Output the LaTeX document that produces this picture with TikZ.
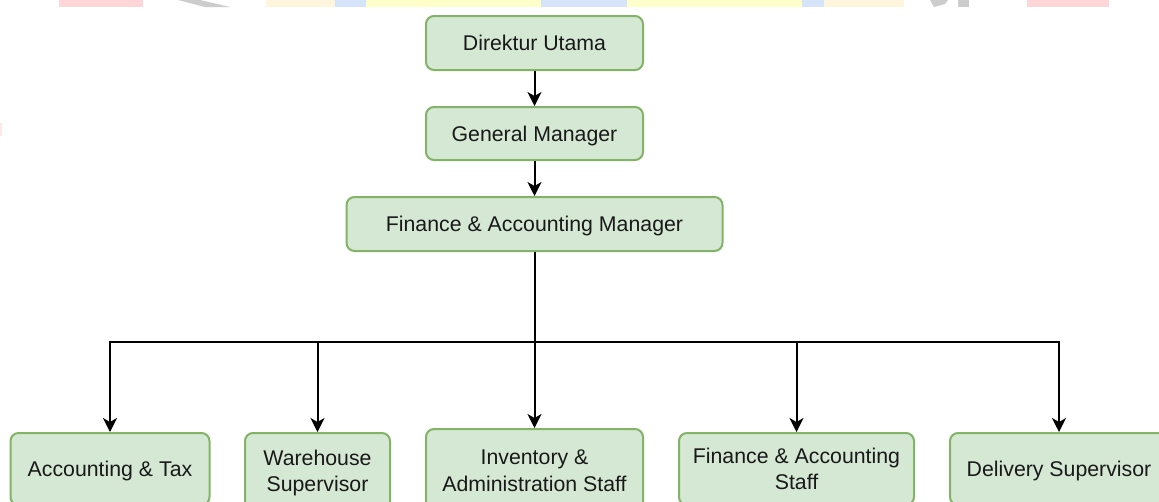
\documentclass[tikz,border=0pt]{standalone}
\usepackage{fontspec}
\setmainfont{Liberation Sans}
\usetikzlibrary{arrows.meta}
\definecolor{boxfill}{HTML}{D5E8D4}
\definecolor{boxline}{HTML}{82B366}
\definecolor{wmpink}{HTML}{FFD6D8}
\definecolor{wmgray}{HTML}{CCCCCC}
\definecolor{wmcream}{HTML}{FFF5DC}
\definecolor{wmyellow}{HTML}{FFFFCC}
\definecolor{wmblue}{HTML}{D6E4FB}
\begin{document}
\begin{tikzpicture}[x=1pt,y=-1pt,
  orgbox/.style={draw=boxline, fill=boxfill, line width=2pt, rounded corners=8pt,
    inner sep=0pt, align=center, text=black!90,
    font=\fontsize{21.3}{26.5}\selectfont},
  oneline/.style={orgbox, text height=15.5pt, text depth=0pt},
  link/.style={line width=2pt, -{Stealth[length=14pt,width=14pt,inset=4pt]}}]
\useasboundingbox (0,0) rectangle (1159,501);
\clip (0,0) rectangle (1159,501);
\fill[white] (0,0) rectangle (1159,501);

% faint banner strip along the top edge
\fill[wmpink]   (59,0) rectangle (143,7);
\fill[wmgray]   (178,0) -- (200,0) -- (230,7) -- (205,7) -- cycle;
\fill[wmcream]  (266,0) rectangle (335,7);
\fill[wmblue]   (335,0) rectangle (366,7);
\fill[wmyellow] (366,0) rectangle (541,7);
\fill[wmblue]   (541,0) rectangle (627,7);
\fill[wmyellow] (627,0) rectangle (802,7);
\fill[wmblue]   (802,0) rectangle (824,7);
\fill[wmcream]  (824,0) rectangle (904,7);
\fill[wmgray]   (930,0) -- (948,0) -- (945,4) -- (934,7) -- cycle;
\fill[wmgray]   (958,0) rectangle (969,7);
\fill[wmpink]   (1027,0) rectangle (1109,7);
\fill[wmpink, opacity=0.6] (0,123) rectangle (2,136);

% management chain
\node[oneline, minimum width=217pt, minimum height=54pt] (dir) at (534.5,43) {Direktur Utama};
\node[oneline, minimum width=217pt, minimum height=53pt] (gm)  at (534.5,133.5) {General Manager};
\node[oneline, minimum width=376pt, minimum height=54pt] (fam) at (534.5,224) {Finance \& Accounting Manager};

% staff row
\node[oneline, anchor=north, minimum width=199pt, minimum height=72pt] (acc) at (110,432) {Accounting \& Tax};
\node[orgbox, anchor=north, minimum width=145pt, minimum height=80pt] (wh)  at (317.5,432) {Warehouse\\Supervisor};
\node[orgbox, anchor=north, minimum width=217pt, minimum height=83pt] (inv) at (534.5,428) {Inventory \&\\Administration Staff};
\node[orgbox, anchor=north, minimum width=235pt, minimum height=72pt] (fas) at (796.5,432) {Finance \& Accounting\\Staff};
\node[oneline, anchor=north, minimum width=218pt, minimum height=72pt] (del) at (1059,432) {Delivery Supervisor};

\coordinate (split) at (534.5,342);

\draw[link] (dir) -- (gm);
\draw[link] (gm) -- (fam);
\draw[link] (fam.south) -- (inv.north);
\draw[link] (split) -| (acc.north);
\draw[link] (split) -| (wh.north);
\draw[link] (split) -| (fas.north);
\draw[link] (split) -| (del.north);
\end{tikzpicture}
\end{document}
